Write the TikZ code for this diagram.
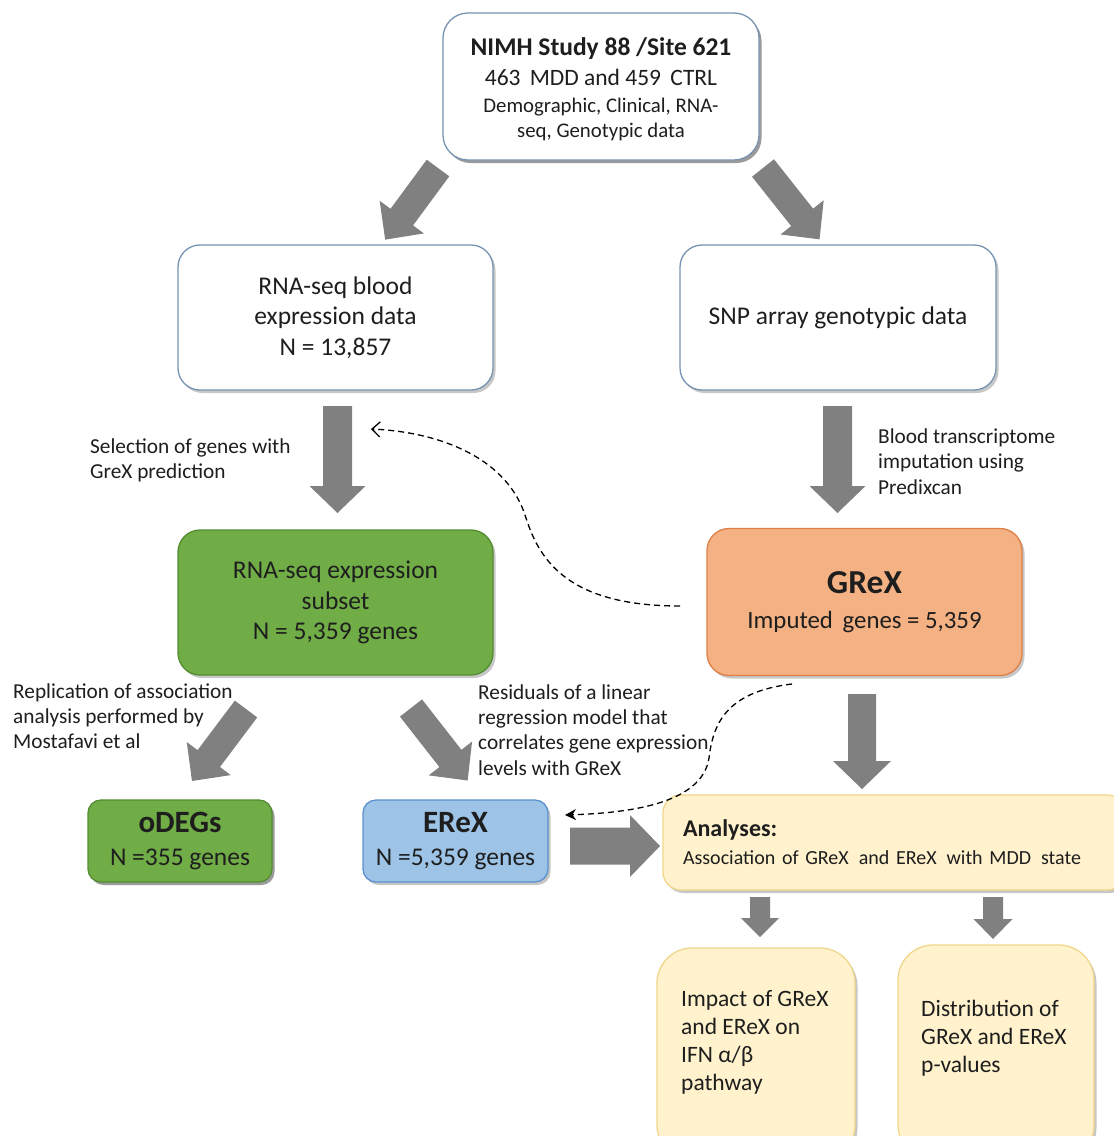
\documentclass[tikz,border=0pt]{standalone}
\usepackage{fontspec}
\setmainfont{Carlito}
\usetikzlibrary{shadows,arrows.meta}
\definecolor{arrowgray}{RGB}{128,128,128}
\definecolor{txt}{RGB}{30,30,30}
\definecolor{bluegray}{RGB}{118,148,178}
\definecolor{grfill}{RGB}{112,173,71}
\definecolor{grdraw}{RGB}{84,140,50}
\definecolor{orfill}{RGB}{244,177,131}
\definecolor{ordraw}{RGB}{222,128,70}
\definecolor{blfill}{RGB}{157,195,230}
\definecolor{bldraw}{RGB}{91,145,205}
\definecolor{yefill}{RGB}{255,242,204}
\definecolor{yedraw}{RGB}{240,215,140}
\newcommand\fatarrow[6]{%
  \fill[arrowgray,shift={(#1)},rotate=#2]
    (0,-#4/2) -- (#3-#6,-#4/2) -- (#3-#6,-#5/2) -- (#3,0) --
    (#3-#6,#5/2) -- (#3-#6,#4/2) -- (0,#4/2) -- cycle;}
\begin{document}
\begin{tikzpicture}[x=1pt,y=-1pt,
  box/.style={rounded corners=#1, line width=1.3pt, text=txt, align=center, inner sep=4pt,
     drop shadow={shadow xshift=2.5pt,shadow yshift=-3pt,fill=black,opacity=0.22}},
  box/.default=22pt,
  whitebox/.style={box, draw=bluegray, fill=white},
  greenbox/.style={box, draw=grdraw, fill=grfill},
  orangebox/.style={box, draw=ordraw, fill=orfill},
  bluebox/.style={box=13pt, draw=bldraw, fill=blfill},
  yellowbox/.style={box=#1, draw=yedraw, fill=yefill},
  bigtext/.style={font=\fontsize{25.5}{30.5}\selectfont},
  note/.style={text=txt, align=left, inner sep=0pt, anchor=west, font=\fontsize{21.3}{25.3}\selectfont},
  dashline/.style={line width=1.3pt, dash pattern=on 6pt off 4pt, black}
]
\useasboundingbox[fill=white] (0,0) rectangle (1114,1136);

% boxes
\node[whitebox, box=25pt, minimum width=316, minimum height=147] (study) at (601,86.5) {};
\node[text=txt, align=center, inner sep=0pt, font=\fontsize{20.8}{25}\selectfont] (studytxt) at (601,89)
  {\fontsize{25.5}{25}\selectfont\bfseries NIMH Study 88 /Site 621\\[5pt]
   \fontsize{23.5}{25}\selectfont\mdseries 463\, MDD and 459\, CTRL\\[2pt]
   \fontsize{20.8}{25}\selectfont Demographic, Clinical, RNA-\\
   seq, Genotypic data};
\node[whitebox, bigtext, minimum width=315, minimum height=145] (rnablood) at (335.5,317.5)
  {RNA-seq blood\\expression data\\N = 13,857};
\node[whitebox, bigtext, minimum width=316, minimum height=145] (snp) at (838,317.5)
  {SNP array genotypic data};
\node[greenbox, bigtext, minimum width=315, minimum height=145] (subset) at (335.5,602.5)
  {RNA-seq expression\\subset\\N = 5,359 genes};
\node[orangebox, minimum width=315, minimum height=147,
      font=\fontsize{24.8}{30}\selectfont] (grex) at (864.5,602)
  {\fontsize{33.5}{30}\selectfont\bfseries GReX\\[5pt]
   \fontsize{24.8}{30}\selectfont\mdseries Imputed\, genes = 5,359};
\node[greenbox, box=13pt, minimum width=184, minimum height=82,
      font=\fontsize{25.5}{30}\selectfont] (odegs) at (180,841)
  {\fontsize{31}{30}\selectfont\bfseries oDEGs\\[3pt]
   \fontsize{25.5}{30}\selectfont\mdseries N =355 genes};
\node[bluebox, minimum width=185, minimum height=82,
      font=\fontsize{25.5}{30}\selectfont] (erex) at (455.5,841)
  {\fontsize{31}{30}\selectfont\bfseries EReX\\[3pt]
   \fontsize{25.5}{30}\selectfont\mdseries N =5,359 genes};
\node[yellowbox=18pt, minimum width=462, minimum height=95, text width=422, inner xsep=20pt, align=left,
      font=\fontsize{20}{28}\selectfont] (analyses) at (894,842.5)
  {\fontsize{24}{28}\selectfont\bfseries Analyses:\\
   \fontsize{20}{28}\selectfont\mdseries Association of GReX\, and EReX\, with MDD\, state};
\node[yellowbox=35pt, minimum width=198, minimum height=212] (impact) at (756,1054) {};
\node[yellowbox=35pt, minimum width=196, minimum height=215] (distrib) at (996,1052.5) {};
\node[text=txt, align=left, anchor=west, inner sep=0pt, font=\fontsize{23.5}{28}\selectfont] (impacttxt) at (681,1042)
  {Impact of GReX\\and EReX on\\IFN α/β\\pathway};
\node[text=txt, align=left, anchor=west, inner sep=0pt, font=\fontsize{23.5}{28}\selectfont] (distribtxt) at (921,1038)
  {Distribution of\\GReX and EReX\\p-values};

% notes
\node[note] (n1) at (90,460) {Selection of genes with\\GreX prediction};
\node[note] (n2) at (878,461.5) {Blood transcriptome\\imputation using\\Predixcan};
\node[note] (n3) at (13,716) {Replication of association\\analysis performed by\\Mostafavi et al};
\node[note] (n4) at (478,730) {Residuals of a linear\\regression model that\\correlates gene expression\\levels with GReX};

% block arrows
\fatarrow{438,168}{-126.4}{89}{28}{55}{28}
\fatarrow{763,168}{-51.6}{91}{28}{55}{28}
\fatarrow{337.5,406}{-90}{107}{29}{56}{27}
\fatarrow{837.5,406}{-90}{107}{29}{56}{27}
\fatarrow{246,709}{-126.9}{90}{28}{55}{28}
\fatarrow{411,708}{-52}{92}{28}{55}{28}
\fatarrow{862,694}{-90}{95}{28}{58}{28}
\fatarrow{570,846}{0}{90}{37}{62}{30}
\fatarrow{760,897}{-90}{40}{20}{38}{19}
\fatarrow{993,897}{-90}{42}{20}{39}{20}

% dashed connectors
\coordinate (d1s) at (680,606);
\coordinate (d1e) at (371,429);
\draw[dashline, -{Straight Barb[length=8pt,width=15pt,line width=1.3pt]}]
  (d1s) .. controls (570,606) and (540,562) .. (526,518)
        .. controls (508,458) and (440,432) .. (d1e);
\coordinate (d2s) at (792,684);
\coordinate (d2e) at (565,815);
\draw[dashline, -{Stealth[length=11pt,width=11pt]}]
  (d2s) .. controls (725,692) and (713,725) .. (709,758)
        .. controls (702,805) and (625,813) .. (d2e);
\end{tikzpicture}
\end{document}
